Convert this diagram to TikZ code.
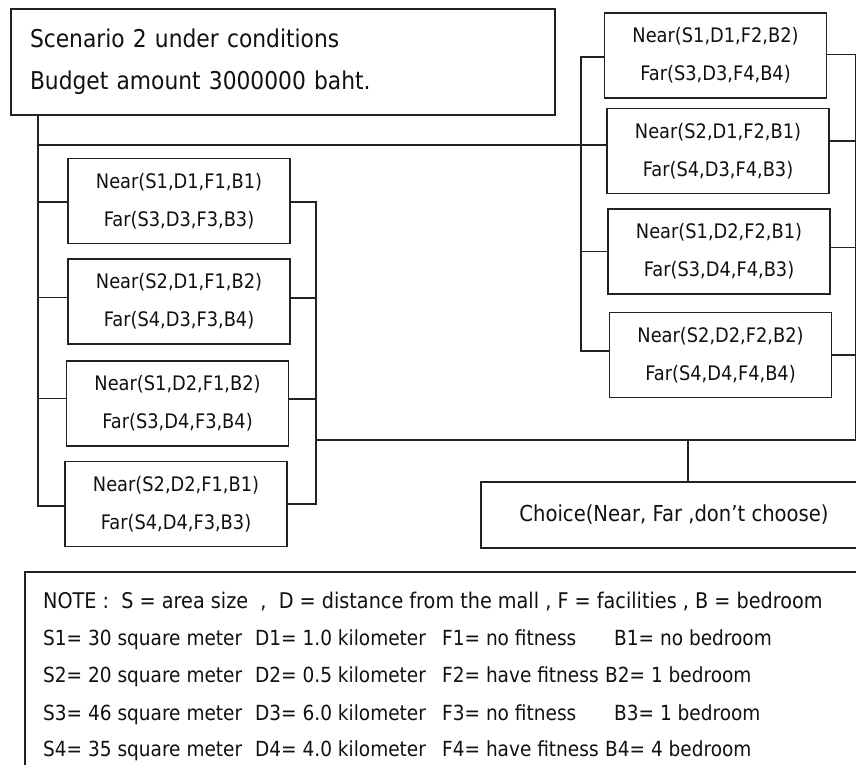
\documentclass[tikz,border=0pt]{standalone}
\usepackage{fontspec}
\setmainfont{DejaVu Sans}[FakeStretch=0.89]
\definecolor{ink}{HTML}{111111}
\definecolor{wire}{HTML}{222222}
\begin{document}
\begin{tikzpicture}[x=1pt,y=-1pt,
  box/.style={draw=wire, line width=1.8pt, rectangle, inner sep=0pt, align=center,
    text=ink, font=\fontsize{20}{38}\selectfont},
  optbox/.style={box, minimum width=222pt, minimum height=85pt},
  link/.style={draw=wire, line width=1.8pt, line cap=rect},
  note/.style={anchor=base west, inner sep=0pt, text=ink, font=\fontsize{20.8}{24}\selectfont}]
\clip (0,0) rectangle (856,764);
\fill[white] (0,0) rectangle (856,764);

% heading
\node[box, minimum width=544pt, minimum height=106pt, align=left, text width=506pt,
  font=\fontsize{24.5}{42}\selectfont] (top) at (283,62)
  {Scenario 2 under conditions\\Budget amount 3000000 baht.};

% first group of options
\node[optbox] (L1) at (179,201)   {Near(S1,D1,F1,B1)\\Far(S3,D3,F3,B3)};
\node[optbox] (L2) at (179,301.5) {Near(S2,D1,F1,B2)\\Far(S4,D3,F3,B4)};
\node[optbox] (L3) at (177.5,403.5) {Near(S1,D2,F1,B2)\\Far(S3,D4,F3,B4)};
\node[optbox] (L4) at (176,504)   {Near(S2,D2,F1,B1)\\Far(S4,D4,F3,B3)};

% second group of options
\node[optbox] (R1) at (715.5,55.5) {Near(S1,D1,F2,B2)\\Far(S3,D3,F4,B4)};
\node[optbox] (R2) at (718,151)    {Near(S2,D1,F2,B1)\\Far(S4,D3,F4,B3)};
\node[optbox] (R3) at (719,251.5)  {Near(S1,D2,F2,B1)\\Far(S3,D4,F4,B3)};
\node[optbox] (R4) at (720.5,355)  {Near(S2,D2,F2,B2)\\Far(S4,D4,F4,B4)};

% choice
\node[box, minimum width=386pt, minimum height=66pt, font=\fontsize{22}{26}\selectfont]
  (choice) at (674,515) {Choice(Near, Far ,don’t choose)};

% legend
\node[draw=wire, line width=1.8pt, minimum width=865pt, minimum height=228pt, inner sep=0pt]
  (notebox) at (457.5,686) {};
\node[note, font=\fontsize{21.6}{24}\selectfont] (n0) at (43,608)
  {NOTE :\ \ S = area size\ \ ,\ \ D = distance from the mall , F = facilities , B = bedroom};
\foreach \i/\yy/\sz/\dk/\ff/\bb/\bx in {
    1/645/30/1.0/no fitness/no bedroom/614,
    2/682/20/0.5/have fitness/1 bedroom/605,
    3/720/46/6.0/no fitness/1 bedroom/614,
    4/756/35/4.0/have fitness/4 bedroom/605}{
  \node[note] (s\i) at (43,\yy)  {S\i= \sz\ square meter};
  \node[note] (d\i) at (255,\yy) {D\i= \dk\ kilometer};
  \node[note] (f\i) at (442,\yy) {F\i= \ff};
  \node[note] (b\i) at (\bx,\yy) {B\i= \bb};
}

% trunk from the heading
\coordinate (jl) at (38,145);
\draw[link] (top.south -| jl) |- ([yshift=-2pt]L4.west);
\foreach \n/\o in {L1/-1, L2/4, L3/5}{
  \path ([yshift=\o pt]\n.west) coordinate (t);
  \draw[link] (jl |- t) -- (t);
}
\draw[link] (jl) -- (jl -| R2.west);

% branch to the second group
\coordinate (jr) at (581,145);
\path ([yshift=-1.5pt]R1.west) coordinate (r1i);
\path ([yshift=4pt]R4.west) coordinate (r4i);
\draw[link] (jr |- r1i) -- (r1i);
\draw[link] (jr |- r1i) |- (r4i);
\draw[link] (jr |- R3.west) -- (R3.west);

% collectors into the choice
\coordinate (cl) at (316,440);
\coordinate (cr) at (856,440);
\draw[link] ([yshift=-1pt]L1.east) -| (cl |- L4.east) -- (L4.east);
\foreach \n/\o in {L2/3.5, L3/4.5}{
  \path ([yshift=\o pt]\n.east) coordinate (t);
  \draw[link] (t) -- (t -| cl);
}
\draw[link] ([yshift=1pt]R1.east) -| (cr);
\path ([yshift=10pt]R2.east) coordinate (r2o);
\draw[link] (r2o) -- (r2o -| cr);
\path ([yshift=4pt]R3.east) coordinate (r3o);
\draw[link] (r3o) -- (r3o -| cr);
\draw[link] (R4.east) -- (R4.east -| cr);
\draw[link] (cl) -- ([xshift=10pt]cr);
\coordinate (jc) at (688,440);
\draw[link] (jc) -- (jc |- choice.north);
\end{tikzpicture}
\end{document}
